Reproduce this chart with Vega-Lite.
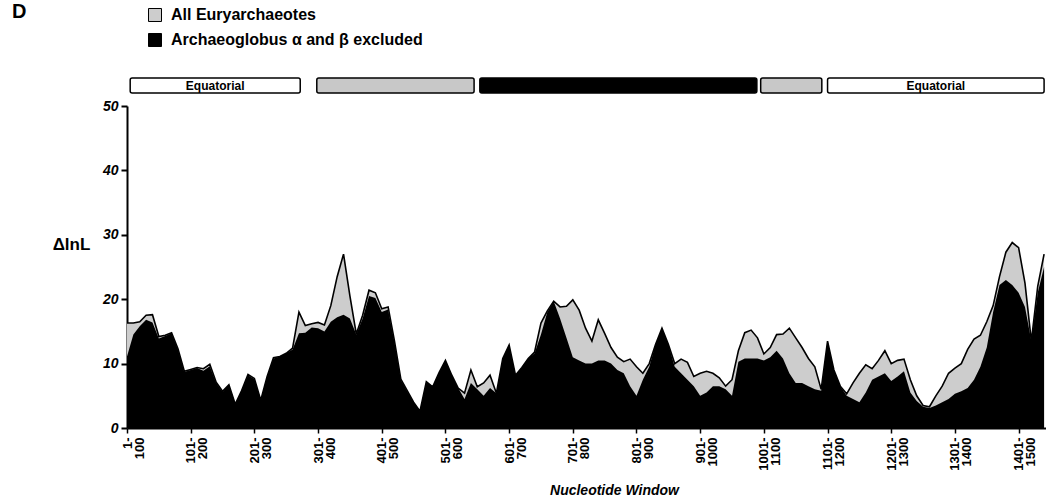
{
  "$schema": "https://vega.github.io/schema/vega-lite/v6.json",
  "width": 919,
  "height": 322,
  "autosize": {"type": "none"},
  "padding": {"left": 127, "top": 106, "right": 0, "bottom": 72},
  "background": "white",
  "config": {
    "view": {"stroke": null},
    "font": "Liberation Sans",
    "axis": {"domainColor": "black", "tickColor": "black", "labelColor": "black", "titleColor": "black", "grid": false}
  },
  "title": {
    "text": "D",
    "anchor": "start",
    "frame": "group",
    "orient": "top",
    "offset": 0,
    "dx": -115,
    "dy": 15,
    "fontSize": 20,
    "fontWeight": "bold",
    "font": "Liberation Sans",
    "color": "black"
  },
  "datasets": {
    "windows": [
      {"start": 1, "all": 16.3, "excl": 11.1},
      {"start": 11, "all": 16.3, "excl": 14.5},
      {"start": 21, "all": 16.5, "excl": 15.8},
      {"start": 31, "all": 17.5, "excl": 16.8},
      {"start": 41, "all": 17.6, "excl": 16.4},
      {"start": 51, "all": 14.2, "excl": 13.9},
      {"start": 61, "all": 14.4, "excl": 14.3},
      {"start": 71, "all": 14.8, "excl": 14.7},
      {"start": 81, "all": 12.3, "excl": 12.2},
      {"start": 91, "all": 8.8, "excl": 8.7},
      {"start": 101, "all": 9.1, "excl": 9.0},
      {"start": 111, "all": 9.4, "excl": 9.3},
      {"start": 121, "all": 9.2, "excl": 8.9},
      {"start": 131, "all": 9.9, "excl": 9.6},
      {"start": 141, "all": 7.1, "excl": 7.0},
      {"start": 151, "all": 5.7, "excl": 5.6},
      {"start": 161, "all": 6.7, "excl": 6.7},
      {"start": 171, "all": 3.7, "excl": 3.7},
      {"start": 181, "all": 5.8, "excl": 5.8},
      {"start": 191, "all": 8.3, "excl": 8.2},
      {"start": 201, "all": 7.7, "excl": 7.6},
      {"start": 211, "all": 4.3, "excl": 4.3},
      {"start": 221, "all": 8.0, "excl": 8.0},
      {"start": 231, "all": 10.9, "excl": 10.8},
      {"start": 241, "all": 11.1, "excl": 11.1},
      {"start": 251, "all": 11.6, "excl": 11.6},
      {"start": 261, "all": 12.4, "excl": 12.2},
      {"start": 271, "all": 18.0, "excl": 14.7},
      {"start": 281, "all": 15.9, "excl": 14.8},
      {"start": 291, "all": 16.2, "excl": 15.6},
      {"start": 301, "all": 16.4, "excl": 15.5},
      {"start": 311, "all": 16.0, "excl": 15.0},
      {"start": 321, "all": 19.0, "excl": 16.5},
      {"start": 331, "all": 23.5, "excl": 17.2},
      {"start": 341, "all": 27.0, "excl": 17.6},
      {"start": 351, "all": 20.5, "excl": 17.0},
      {"start": 361, "all": 14.6, "excl": 14.5},
      {"start": 371, "all": 17.5, "excl": 17.0},
      {"start": 381, "all": 21.4, "excl": 20.5},
      {"start": 391, "all": 21.0, "excl": 20.2},
      {"start": 401, "all": 18.5, "excl": 18.0},
      {"start": 411, "all": 18.8, "excl": 18.4},
      {"start": 421, "all": 13.5, "excl": 13.3},
      {"start": 431, "all": 7.6, "excl": 7.5},
      {"start": 441, "all": 5.8, "excl": 5.7},
      {"start": 451, "all": 4.0, "excl": 4.0},
      {"start": 461, "all": 2.6, "excl": 2.6},
      {"start": 471, "all": 7.2, "excl": 7.2},
      {"start": 481, "all": 6.4, "excl": 6.4},
      {"start": 491, "all": 8.6, "excl": 8.6},
      {"start": 501, "all": 10.5, "excl": 10.5},
      {"start": 511, "all": 8.2, "excl": 8.2},
      {"start": 521, "all": 6.2, "excl": 6.2},
      {"start": 531, "all": 5.4, "excl": 4.5},
      {"start": 541, "all": 9.0, "excl": 7.0},
      {"start": 551, "all": 6.4, "excl": 6.0},
      {"start": 561, "all": 7.0, "excl": 5.0},
      {"start": 571, "all": 8.2, "excl": 6.2},
      {"start": 581, "all": 5.4, "excl": 5.4},
      {"start": 591, "all": 10.8, "excl": 10.8},
      {"start": 601, "all": 12.9, "excl": 12.9},
      {"start": 611, "all": 8.2, "excl": 8.2},
      {"start": 621, "all": 9.4, "excl": 9.4},
      {"start": 631, "all": 10.8, "excl": 10.8},
      {"start": 641, "all": 11.8, "excl": 11.6},
      {"start": 651, "all": 16.3, "excl": 14.5},
      {"start": 661, "all": 18.2, "excl": 18.0},
      {"start": 671, "all": 19.7, "excl": 19.7},
      {"start": 681, "all": 18.8, "excl": 17.0},
      {"start": 691, "all": 18.9, "excl": 14.0},
      {"start": 701, "all": 19.9, "excl": 11.0},
      {"start": 711, "all": 18.3, "excl": 10.5},
      {"start": 721, "all": 15.5, "excl": 10.0},
      {"start": 731, "all": 13.5, "excl": 10.0},
      {"start": 741, "all": 16.8, "excl": 10.5},
      {"start": 751, "all": 14.7, "excl": 10.5},
      {"start": 761, "all": 12.5, "excl": 10.0},
      {"start": 771, "all": 11.0, "excl": 9.0},
      {"start": 781, "all": 10.3, "excl": 8.5},
      {"start": 791, "all": 10.7, "excl": 6.5},
      {"start": 801, "all": 9.5, "excl": 5.0},
      {"start": 811, "all": 8.5, "excl": 7.5},
      {"start": 821, "all": 10.0, "excl": 9.5},
      {"start": 831, "all": 13.0, "excl": 13.0},
      {"start": 841, "all": 15.5, "excl": 15.5},
      {"start": 851, "all": 13.0, "excl": 13.0},
      {"start": 861, "all": 10.0, "excl": 9.5},
      {"start": 871, "all": 10.7, "excl": 8.5},
      {"start": 881, "all": 10.2, "excl": 7.5},
      {"start": 891, "all": 8.0, "excl": 6.5},
      {"start": 901, "all": 8.5, "excl": 5.0},
      {"start": 911, "all": 8.8, "excl": 5.5},
      {"start": 921, "all": 8.5, "excl": 6.5},
      {"start": 931, "all": 7.8, "excl": 6.5},
      {"start": 941, "all": 6.5, "excl": 6.0},
      {"start": 951, "all": 7.5, "excl": 5.0},
      {"start": 961, "all": 12.0, "excl": 10.3},
      {"start": 971, "all": 14.8, "excl": 10.8},
      {"start": 981, "all": 15.2, "excl": 10.8},
      {"start": 991, "all": 14.0, "excl": 10.8},
      {"start": 1001, "all": 11.5, "excl": 10.5},
      {"start": 1011, "all": 12.5, "excl": 11.0},
      {"start": 1021, "all": 14.5, "excl": 12.0},
      {"start": 1031, "all": 14.6, "excl": 10.8},
      {"start": 1041, "all": 15.5, "excl": 8.5},
      {"start": 1051, "all": 14.0, "excl": 7.0},
      {"start": 1061, "all": 12.5, "excl": 7.0},
      {"start": 1071, "all": 10.8, "excl": 6.5},
      {"start": 1081, "all": 9.5, "excl": 6.0},
      {"start": 1091, "all": 6.0, "excl": 5.8},
      {"start": 1101, "all": 13.5, "excl": 13.5},
      {"start": 1111, "all": 9.0, "excl": 9.0},
      {"start": 1121, "all": 6.5, "excl": 6.5},
      {"start": 1131, "all": 5.3, "excl": 5.0},
      {"start": 1141, "all": 7.0, "excl": 4.5},
      {"start": 1151, "all": 8.5, "excl": 4.0},
      {"start": 1161, "all": 9.8, "excl": 5.5},
      {"start": 1171, "all": 9.2, "excl": 7.5},
      {"start": 1181, "all": 10.5, "excl": 8.0},
      {"start": 1191, "all": 12.0, "excl": 8.5},
      {"start": 1201, "all": 10.0, "excl": 7.3},
      {"start": 1211, "all": 10.5, "excl": 8.0},
      {"start": 1221, "all": 10.7, "excl": 8.8},
      {"start": 1231, "all": 7.5, "excl": 5.5},
      {"start": 1241, "all": 5.0, "excl": 4.2},
      {"start": 1251, "all": 3.5, "excl": 3.3},
      {"start": 1261, "all": 3.3, "excl": 3.1},
      {"start": 1271, "all": 5.0, "excl": 3.5},
      {"start": 1281, "all": 6.5, "excl": 4.0},
      {"start": 1291, "all": 8.5, "excl": 4.5},
      {"start": 1301, "all": 9.3, "excl": 5.3},
      {"start": 1311, "all": 10.0, "excl": 5.7},
      {"start": 1321, "all": 12.2, "excl": 6.2},
      {"start": 1331, "all": 13.8, "excl": 7.5},
      {"start": 1341, "all": 14.4, "excl": 9.5},
      {"start": 1351, "all": 16.5, "excl": 12.5},
      {"start": 1361, "all": 19.0, "excl": 18.0},
      {"start": 1371, "all": 23.5, "excl": 22.2},
      {"start": 1381, "all": 27.3, "excl": 23.0},
      {"start": 1391, "all": 28.8, "excl": 22.2},
      {"start": 1401, "all": 28.0, "excl": 21.0},
      {"start": 1411, "all": 22.5, "excl": 18.8},
      {"start": 1421, "all": 13.5, "excl": 13.5},
      {"start": 1431, "all": 22.0, "excl": 21.0},
      {"start": 1441, "all": 27.0, "excl": 25.0}
    ],
    "regions": [
      {"region": "Equatorial", "from": 6, "to": 273},
      {"region": "Intermediate", "from": 299, "to": 546},
      {"region": "Central", "from": 555, "to": 990},
      {"region": "Intermediate", "from": 996, "to": 1092},
      {"region": "Equatorial", "from": 1101, "to": 1441}
    ]
  },
  "layer": [
    {
      "data": {"name": "regions"},
      "mark": {"type": "rect", "clip": false, "stroke": "black", "strokeWidth": 1.5, "cornerRadius": 2},
      "encoding": {
        "x": {"field": "from", "type": "quantitative"},
        "x2": {"field": "to"},
        "y": {"datum": 52},
        "y2": {"datum": 54.35},
        "fill": {
          "field": "region",
          "type": "nominal",
          "scale": {"domain": ["Equatorial", "Intermediate", "Central"], "range": ["#ffffff", "#c8c8c8", "#000000"]},
          "legend": null
        }
      }
    },
    {
      "data": {"name": "regions"},
      "transform": [
        {"filter": "datum.region === 'Equatorial'"},
        {"calculate": "(datum.from + datum.to) / 2", "as": "mid"}
      ],
      "mark": {"type": "text", "clip": false, "fontWeight": "bold", "fontSize": 12, "color": "black", "baseline": "middle", "align": "center"},
      "encoding": {
        "x": {"field": "mid", "type": "quantitative"},
        "y": {"datum": 53.17},
        "text": {"field": "region"}
      }
    },
    {
      "data": {"name": "windows"},
      "transform": [
        {"fold": ["all", "excl"], "as": ["series", "dlnl"]},
        {"filter": "datum.series === 'all'"}
      ],
      "mark": {"type": "area", "opacity": 1},
      "encoding": {
        "x": {"field": "start", "type": "quantitative"},
        "y": {"field": "dlnl", "type": "quantitative"},
        "color": {
          "field": "series",
          "type": "nominal",
          "scale": {"domain": ["all", "excl"], "range": ["#cdcdcd", "#000000"]},
          "legend": {
            "orient": "none",
            "legendX": 20,
            "legendY": -99,
            "title": null,
            "padding": 0,
            "symbolType": "square",
            "symbolSize": 169,
            "symbolStrokeColor": "black",
            "symbolStrokeWidth": 1,
            "labelFont": "Liberation Sans",
            "labelFontSize": 16,
            "labelFontWeight": "bold",
            "labelColor": "black",
            "labelLimit": 500,
            "labelOffset": 8,
            "rowPadding": 7,
            "labelExpr": "datum.label === 'all' ? 'All Euryarchaeotes' : 'Archaeoglobus α and β excluded'"
          }
        }
      }
    },
    {
      "data": {"name": "windows"},
      "mark": {"type": "line", "color": "black", "strokeWidth": 1.6},
      "encoding": {
        "x": {"field": "start", "type": "quantitative"},
        "y": {"field": "all", "type": "quantitative"}
      }
    },
    {
      "data": {"name": "windows"},
      "transform": [
        {"fold": ["all", "excl"], "as": ["series", "dlnl"]},
        {"filter": "datum.series === 'excl'"}
      ],
      "mark": {"type": "area", "opacity": 1},
      "encoding": {
        "x": {"field": "start", "type": "quantitative"},
        "y": {"field": "dlnl", "type": "quantitative"},
        "color": {"field": "series", "type": "nominal"}
      }
    },
    {
      "mark": {"type": "rule", "color": "black", "strokeWidth": 2},
      "encoding": {"y": {"datum": 50}}
    }
  ],
  "resolve": {"scale": {"x": "shared", "y": "shared"}},
  "encoding": {
    "x": {
      "type": "quantitative",
      "scale": {"domain": [1, 1444], "nice": false, "zero": false},
      "axis": {
        "title": "Nucleotide Window",
        "values": [1, 101, 201, 301, 401, 501, 601, 701, 801, 901, 1001, 1101, 1201, 1301, 1401],
        "labelExpr": "[datum.value + '-', '' + (datum.value + 99)]",
        "labelAngle": -90,
        "labelFontSize": 13,
        "labelFontWeight": "bold",
        "labelLineHeight": 12,
        "labelPadding": 4,
        "labelFlush": false,
        "labelOverlap": false,
        "labelBound": false,
        "tickSize": 5,
        "tickWidth": 1.5,
        "domainWidth": 2,
        "titleFontSize": 14,
        "titleFontStyle": "italic",
        "titleFontWeight": "bold",
        "titleAlign": "center",
        "titleBaseline": "middle",
        "titleX": 487,
        "titleY": 62
      }
    },
    "y": {
      "type": "quantitative",
      "scale": {"domain": [0, 50], "nice": false},
      "axis": {
        "title": "ΔlnL",
        "values": [0, 10, 20, 30, 40, 50],
        "labelFontSize": 14,
        "labelFontStyle": "italic",
        "labelFontWeight": "bold",
        "labelPadding": 3,
        "tickSize": 6,
        "tickWidth": 2,
        "domainWidth": 2,
        "titleAngle": 0,
        "titleFontSize": 17,
        "titleFontWeight": "bold",
        "titleAlign": "center",
        "titleBaseline": "middle",
        "titleX": -56,
        "titleY": 138
      }
    }
  }
}
